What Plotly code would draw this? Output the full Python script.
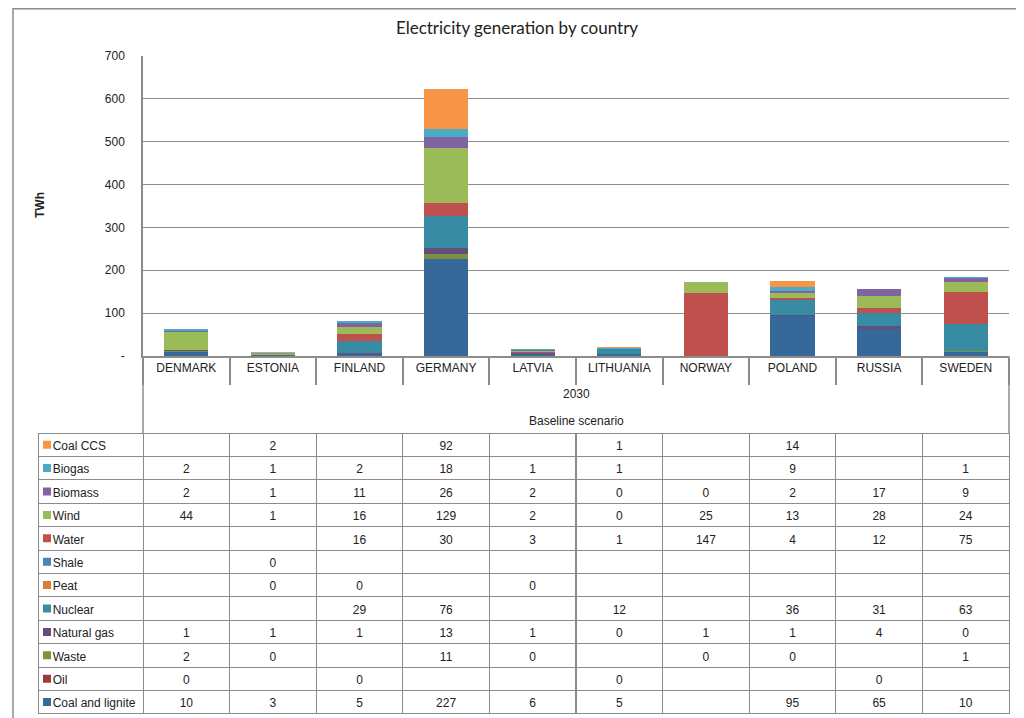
import plotly.graph_objects as go

# ---- dados ----
paises = ["DENMARK", "ESTONIA", "FINLAND", "GERMANY", "LATVIA",
          "LITHUANIA", "NORWAY", "POLAND", "RUSSIA", "SWEDEN"]

coal_ccs = [None, 2, None, 92, None, 1, None, 14, None, None]
biogas = [2, 1, 2, 18, 1, 1, None, 9, None, 1]
biomass = [2, 1, 11, 26, 2, 0, 0, 2, 17, 9]
wind = [44, 1, 16, 129, 2, 0, 25, 13, 28, 24]
water = [None, None, 16, 30, 3, 1, 147, 4, 12, 75]
shale = [None, 0, None, None, None, None, None, None, None, None]
peat = [None, 0, 0, None, 0, None, None, None, None, None]
nuclear = [None, None, 29, 76, None, 12, None, 36, 31, 63]
natural_gas = [1, 1, 1, 13, 1, 0, 1, 1, 4, 0]
waste = [2, 0, None, 11, 0, None, 0, 0, None, 1]
oil = [0, None, 0, None, None, 0, None, None, 0, None]
coal_lignite = [10, 3, 5, 227, 6, 5, None, 95, 65, 10]

y_ticks = [0, 100, 200, 300, 400, 500, 600, 700]
y_ticktext = ["-", "100", "200", "300", "400", "500", "600", "700"]

# ordem da tabela (de cima para baixo) -> nome, valores, cor
series = [
    ("Coal CCS", coal_ccs, "#F79646"),
    ("Biogas", biogas, "#4BACC6"),
    ("Biomass", biomass, "#8064A2"),
    ("Wind", wind, "#9BBB59"),
    ("Water", water, "#C0504D"),
    ("Shale", shale, "#4F81BD"),
    ("Peat", peat, "#D6803A"),
    ("Nuclear", nuclear, "#378BA2"),
    ("Natural gas", natural_gas, "#634E7E"),
    ("Waste", waste, "#77933C"),
    ("Oil", oil, "#9C3C3A"),
    ("Coal and lignite", coal_lignite, "#36689A"),
]
nomes = [s[0] for s in series]
cores = [s[2] for s in series]

# a pagina tem margem de 8px no body
OFF = 8
W, H = 1024 - OFF, 718 - OFF
GRID = "#8c8c8c"
FONT = "Liberation Sans"


def px_x(x):
    return (x - OFF) / W


def px_y(y):
    return 1 - (y - OFF) / H


fig = go.Figure()

# barras empilhadas (de baixo para cima = ordem inversa da tabela)
for nome, vals, cor in reversed(series):
    fig.add_trace(go.Bar(
        x=paises, y=vals, name=nome,
        marker=dict(color=cor, line=dict(width=0)),
        showlegend=False, hoverinfo="x+y+name",
    ))

# ---- tabela ----
# nbsp para nao quebrar linha e deixar espaco para o quadradinho
primeira_col = ["\u00a0\u00a0" + n.replace(" ", "\u00a0") for n in nomes]
colunas = [primeira_col]
for i in range(len(paises)):
    colunas.append(["" if v[i] is None else str(v[i]) for _, v, _ in series])

row_h = 23.4
tab_top, tab_bot = 433, 433 + 12 * row_h
estilo = dict(
    fill_color="rgba(0,0,0,0)",
    line=dict(color=GRID, width=1),
    font=dict(family=FONT, size=12, color="#222"),
    align=["left"] + ["center"] * len(paises),
    height=row_h,
)
fig.add_trace(go.Table(
    domain=dict(x=[px_x(38), px_x(1009)], y=[0, px_y(tab_top)]),
    columnwidth=[105] + [86.6] * len(paises),
    header=dict(values=[c[0] for c in colunas], **estilo),
    cells=dict(values=[c[1:] for c in colunas], **estilo),
))

# quadradinhos da legenda na primeira coluna
fig.add_trace(go.Scatter(
    x=[9] * len(nomes), y=nomes, mode="markers",
    marker=dict(symbol="square", size=8, color=cores, line=dict(width=0)),
    xaxis="x3", yaxis="y3", showlegend=False, hoverinfo="skip",
))

shapes = [
    # moldura externa
    dict(type="line", xref="paper", yref="paper", x0=px_x(13), x1=1.0,
         y0=0.999, y1=0.999, line=dict(color=GRID, width=1.5)),
    dict(type="line", xref="paper", yref="paper", x0=px_x(13), x1=px_x(13),
         y0=1, y1=0, line=dict(color=GRID, width=1.5)),
    # bordas da area de categorias
    dict(type="line", xref="paper", yref="paper", x0=px_x(143), x1=px_x(143),
         y0=px_y(356), y1=px_y(tab_top), line=dict(color=GRID, width=1.5)),
    dict(type="line", xref="paper", yref="paper", x0=px_x(1009), x1=px_x(1009),
         y0=px_y(356), y1=px_y(tab_top), line=dict(color=GRID, width=1.5)),
]

annotations = [
    dict(text="TWh", xref="paper", yref="paper", x=px_x(40), y=px_y(205),
         xanchor="center", yanchor="middle", textangle=-90, showarrow=False,
         font=dict(family=FONT, size=12, color="#222", weight="bold")),
    dict(text="2030", xref="paper", yref="paper", x=px_x(576), y=px_y(394),
         xanchor="center", yanchor="middle",
         showarrow=False, font=dict(family=FONT, size=12, color="#222")),
    dict(text="Baseline scenario", xref="paper", yref="paper", x=px_x(576), y=px_y(421),
         xanchor="center", yanchor="middle",
         showarrow=False, font=dict(family=FONT, size=12, color="#222")),
]

fig.update_layout(
    template="none",
    width=W, height=H,
    margin=dict(l=0, r=0, t=0, b=0, pad=0),
    paper_bgcolor="white", plot_bgcolor="white",
    font=dict(family=FONT, size=12, color="#222"),
    barmode="stack", bargap=0.49,
    showlegend=False,
    title=dict(text="Electricity generation by country", x=px_x(517), y=px_y(28),
               xanchor="center", yanchor="middle",
               font=dict(family="Lato", size=17, color="#222")),
    xaxis=dict(
        domain=[px_x(143), px_x(1009)], type="category", automargin=False,
        showline=True, linecolor=GRID, linewidth=1.5,
        ticks="outside", tickson="boundaries", ticklen=27, tickcolor=GRID, tickwidth=1.5,
        ticklabelstandoff=0,
        tickfont=dict(family=FONT, size=12, color="#222"),
        showgrid=False, zeroline=False,
    ),
    yaxis=dict(
        domain=[px_y(356), px_y(56)], range=[0, 700], autorange=False, automargin=False,
        tickvals=y_ticks, ticktext=y_ticktext,
        showgrid=True, gridcolor=GRID, gridwidth=1,
        showline=True, linecolor=GRID, linewidth=1.5,
        zeroline=False, ticks="", ticklabelstandoff=14,
        tickfont=dict(family=FONT, size=12, color="#222"),
    ),
    xaxis3=dict(domain=[px_x(38), px_x(143)], range=[0, 105], visible=False,
                anchor="y3", fixedrange=True, automargin=False),
    yaxis3=dict(domain=[px_y(tab_bot), px_y(tab_top)], type="category",
                categoryorder="array", categoryarray=list(reversed(nomes)),
                range=[-0.5, len(nomes) - 0.5], visible=False,
                anchor="x3", fixedrange=True, automargin=False),
    shapes=shapes,
    annotations=annotations,
)

fig.write_html("out.html")
